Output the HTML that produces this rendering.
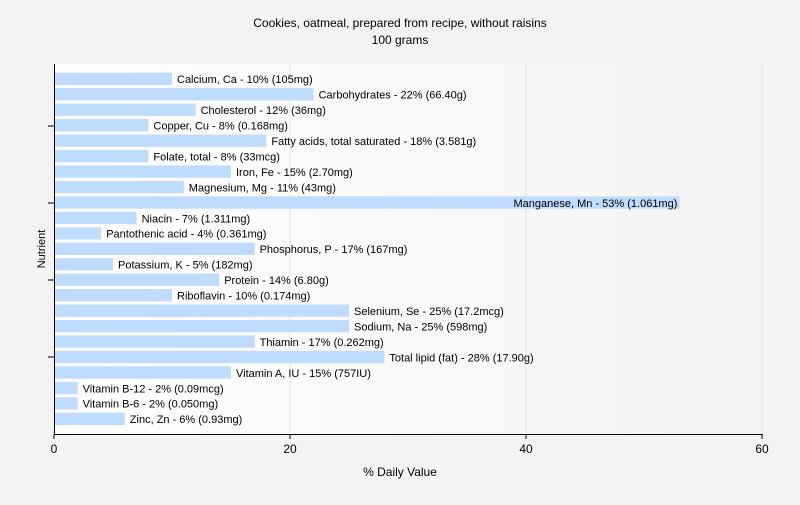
<!DOCTYPE html>
<html><head><meta charset="utf-8"><style>
body{margin:0;background:#f3f3f2;}
svg text{font-family:"Liberation Sans",sans-serif;}
</style></head><body>
<svg id="c" width="800" height="500" xmlns="http://www.w3.org/2000/svg">
<defs><linearGradient id="g" x1="0" x2="1" y1="0" y2="0"><stop offset="0" stop-color="#ffffff"/><stop offset="1" stop-color="#f3f3f2"/></linearGradient></defs>
<rect width="800" height="500" fill="#f3f3f2"/>
<rect x="54" y="64" width="708" height="370" fill="url(#g)"/>
<text x="400" y="27" font-size="12" text-anchor="middle">Cookies, oatmeal, prepared from recipe, without raisins</text>
<text x="400" y="44" font-size="12" text-anchor="middle">100 grams</text>
<text x="400" y="476" font-size="12" text-anchor="middle">% Daily Value</text>
<text transform="translate(45,249) rotate(-90)" font-size="11" text-anchor="middle">Nutrient</text>
<g id="grid"></g><g id="bars"></g><g id="axes"></g>
</svg>
<script>
const categories=["Calcium, Ca","Carbohydrates","Cholesterol","Copper, Cu","Fatty acids, total saturated","Folate, total","Iron, Fe","Magnesium, Mg","Manganese, Mn","Niacin","Pantothenic acid","Phosphorus, P","Potassium, K","Protein","Riboflavin","Selenium, Se","Sodium, Na","Thiamin","Total lipid (fat)","Vitamin A, IU","Vitamin B-12","Vitamin B-6","Zinc, Zn"];
const values=[10,22,12,8,18,8,15,11,53,7,4,17,5,14,10,25,25,17,28,15,2,2,6];
const amounts=["105mg","66.40g","36mg","0.168mg","3.581g","33mcg","2.70mg","43mg","1.061mg","1.311mg","0.361mg","167mg","182mg","6.80g","0.174mg","17.2mcg","598mg","0.262mg","17.90g","757IU","0.09mcg","0.050mg","0.93mg"];
const xTicks=[0,20,40,60];
const NS="http://www.w3.org/2000/svg";
const x0=54,x1=762,xmax=60;
const xs=v=>x0+v/xmax*(x1-x0);
const firstTop=72.7,lastTop=412.7;
const pitch=(lastTop-firstTop)/(categories.length-1);
const ys=i=>firstTop+i*pitch;
function mk(t,a,p){const e=document.createElementNS(NS,t);for(const k in a)e.setAttribute(k,a[k]);p.appendChild(e);return e;}
const grid=document.getElementById('grid'),bars=document.getElementById('bars'),axes=document.getElementById('axes');
xTicks.forEach(t=>{if(t>0){const l=mk('line',{x1:xs(t),x2:xs(t),y1:64,y2:434,stroke:'#e4e4e4'},grid);

}
const tk=mk('line',{x1:xs(t),x2:xs(t),y1:434,y2:439,stroke:'#000'},axes);


const tx=mk('text',{x:xs(t),y:453,'font-size':12,'text-anchor':'middle'},axes);tx.textContent=t;

});
categories.forEach((c,i)=>{const y=ys(i);
const r=mk('rect',{x:x0,y:y,width:xs(values[i])-x0,height:12.3,fill:'#bfdbfd'},bars);


const t=mk('text',{x:xs(values[i])+5,y:y+10.5,'font-size':11},bars);
t.textContent=c+" - "+values[i]+"% ("+amounts[i]+")";


const w=t.getComputedTextLength();
if(xs(values[i])+5+w>x1){t.setAttribute('x',xs(values[i])-2);t.setAttribute('text-anchor','end');}
});
[126,203,280,357].forEach(y=>{const l=mk('line',{x1:48,x2:54,y1:y,y2:y,stroke:'#000'},axes);

});
const ya=mk('line',{x1:54.5,x2:54.5,y1:64,y2:434,stroke:'#000'},axes);


const xa=mk('line',{x1:54,x2:763,y1:434.5,y2:434.5,stroke:'#000'},axes);


</script>
</body></html>
